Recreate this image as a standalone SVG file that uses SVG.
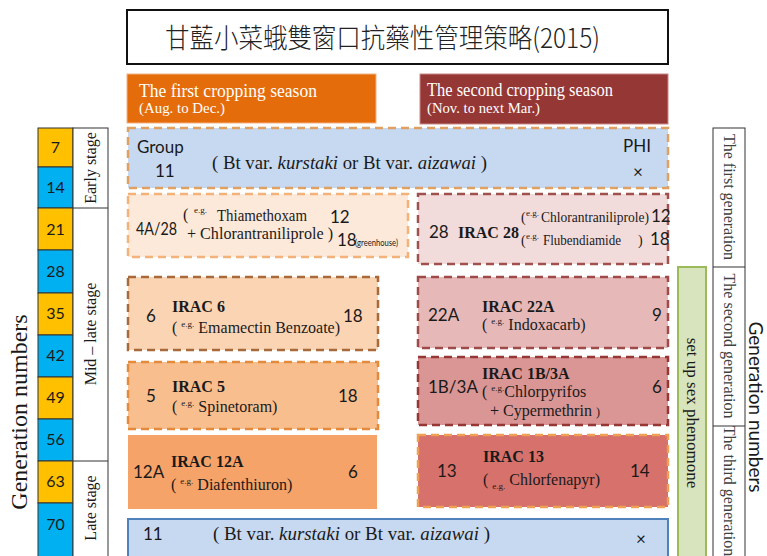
<svg xmlns="http://www.w3.org/2000/svg" width="767" height="556" viewBox="0 0 767 556">
<style>
.sans{font-family:Lato,"Open Sans","Liberation Sans",sans-serif;fill:#1a1a1a}
.ser{font-family:"Liberation Serif","DejaVu Serif",serif;fill:#1a1a1a}
.b{font-weight:bold}
.wh{fill:#ffffff}
.cell{stroke:#333;stroke-width:1}
.y{fill:#FFC000}
.bl{fill:#00B0F0}
.n{font-size:16px;text-anchor:middle}
.num{font-size:17px}
.dash{stroke-width:2.5;stroke-dasharray:8 5}
.gen{font-family:"Liberation Serif",serif;font-size:16px;fill:#404040;text-anchor:middle}
</style>
<rect width="767" height="556" fill="#ffffff"/>

<g id="title">
<rect x="127" y="10" width="541" height="54" fill="#fff" stroke="#111" stroke-width="2"/>
<text x="165" y="48" font-family="'Noto Sans CJK TC','Noto Sans CJK SC',sans-serif" font-size="27" font-weight="300" fill="#222" textLength="435" lengthAdjust="spacingAndGlyphs">甘藍小菜蛾雙窗口抗藥性管理策略(2015)</text>
</g>

<g id="header-first">
<rect x="127" y="74" width="249" height="49" fill="#E46C0A" stroke="#F4B183" stroke-width="1"/>
<text class="ser wh" x="139" y="97" font-size="18" textLength="178" lengthAdjust="spacingAndGlyphs">The first cropping season</text>
<text class="ser wh" x="139" y="113" font-size="15" textLength="86" lengthAdjust="spacingAndGlyphs">(Aug. to Dec.)</text>
</g>
<g id="header-second">
<rect x="420" y="74" width="248" height="50" fill="#953735" stroke="#C98A88" stroke-width="1"/>
<text class="ser wh" x="427" y="96" font-size="18" textLength="186" lengthAdjust="spacingAndGlyphs">The second cropping season</text>
<text class="ser wh" x="427" y="113" font-size="15" textLength="113" lengthAdjust="spacingAndGlyphs">(Nov. to next Mar.)</text>
</g>

<g id="gen-numbers-left">
<rect class="cell y" x="38" y="128" width="35" height="39"/>
<rect class="cell bl" x="38" y="167" width="35" height="41"/>
<rect class="cell y" x="38" y="208" width="35" height="42"/>
<rect class="cell bl" x="38" y="250" width="35" height="43"/>
<rect class="cell y" x="38" y="293" width="35" height="42"/>
<rect class="cell bl" x="38" y="335" width="35" height="42"/>
<rect class="cell y" x="38" y="377" width="35" height="42"/>
<rect class="cell bl" x="38" y="419" width="35" height="42"/>
<rect class="cell y" x="38" y="461" width="35" height="42"/>
<rect class="cell bl" x="38" y="503" width="35" height="60"/>
<text class="sans n" x="55.5" y="153">7</text>
<text class="sans n" x="55.5" y="193">14</text>
<text class="sans n" x="55.5" y="235">21</text>
<text class="sans n" x="55.5" y="277">28</text>
<text class="sans n" x="55.5" y="319">35</text>
<text class="sans n" x="55.5" y="361">42</text>
<text class="sans n" x="55.5" y="403">49</text>
<text class="sans n" x="55.5" y="445">56</text>
<text class="sans n" x="55.5" y="487">63</text>
<text class="sans n" x="55.5" y="530">70</text>
</g>

<g id="stages">
<rect x="73" y="128" width="35" height="440" fill="#fff" stroke="#333" stroke-width="1"/>
<line x1="73" y1="208" x2="108" y2="208" stroke="#333"/>
<line x1="73" y1="461" x2="108" y2="461" stroke="#333"/>
<text class="ser" font-size="16" text-anchor="middle" transform="translate(96,168) rotate(-90)" fill="#333">Early stage</text>
<text class="ser" font-size="16" text-anchor="middle" transform="translate(96,334) rotate(-90)" fill="#333">Mid – late stage</text>
<text class="ser" font-size="16" text-anchor="middle" transform="translate(96,508) rotate(-90)" fill="#333">Late stage</text>
</g>

<g id="label-left">
<text class="ser" font-size="24" text-anchor="middle" transform="translate(27,412) rotate(-90)" fill="#333">Generation numbers</text>
</g>

<g id="group11-top">
<rect class="dash" x="128" y="128" width="540" height="60" fill="#C6D9F1" stroke="#DFA062"/>
<text class="sans num" x="137" y="153">Group</text>
<text class="sans num" x="155" y="177">11</text>
<text class="ser" x="212" y="169" font-size="19" textLength="275" lengthAdjust="spacingAndGlyphs">( Bt var. <tspan font-style="italic">kurstaki</tspan> or Bt var. <tspan font-style="italic">aizawai</tspan> )</text>
<text class="sans num" x="623" y="152">PHI</text>
<text class="sans num" x="633" y="178">×</text>
</g>

<g id="irac-4a28">
<rect class="dash" x="128" y="194" width="280" height="63" fill="#FDE9D9" stroke="#F2B27A"/>
<text class="sans num" x="136" y="235" textLength="41" lengthAdjust="spacingAndGlyphs">4A/28</text>
<text class="ser" x="183" y="220" font-size="16">(</text>
<text class="ser" x="194" y="213" font-size="9">e.g.</text>
<text class="ser" x="217" y="221" font-size="16" textLength="90" lengthAdjust="spacingAndGlyphs">Thiamethoxam</text>
<text class="ser" x="187" y="239" font-size="16" textLength="146" lengthAdjust="spacingAndGlyphs">+ Chlorantraniliprole )</text>
<text class="sans num" x="330" y="223">12</text>
<text class="sans num" x="337" y="246">18</text>
<text class="sans" x="355" y="246" font-size="10" textLength="43" lengthAdjust="spacingAndGlyphs">(greenhouse)</text>
</g>

<g id="irac-28">
<rect class="dash" x="418" y="194" width="250" height="70" fill="#F2DCDB" stroke="#A0504D"/>
<text class="sans num" x="429" y="238">28</text>
<text class="ser b" x="458" y="238" font-size="16">IRAC 28</text>
<text class="ser" x="521" y="222" font-size="14">(</text>
<text class="ser" x="526" y="216" font-size="9">e.g.</text>
<text class="ser" x="541" y="222" font-size="14" textLength="108" lengthAdjust="spacingAndGlyphs">Chlorantraniliprole)</text>
<text class="sans num" x="651" y="222">12</text>
<text class="ser" x="521" y="245" font-size="14">(</text>
<text class="ser" x="526" y="239" font-size="9">e.g.</text>
<text class="ser" x="543" y="245" font-size="14" textLength="78" lengthAdjust="spacingAndGlyphs">Flubendiamide</text>
<text class="ser" x="638" y="245" font-size="14">)</text>
<text class="sans num" x="650" y="245">18</text>
</g>

<g id="irac-6">
<rect class="dash" x="128" y="277" width="250" height="73" fill="#FBD4B4" stroke="#A8693B"/>
<text class="sans num" x="146" y="322">6</text>
<text class="ser b" x="172" y="312" font-size="16">IRAC 6</text>
<text class="ser" x="172" y="333" font-size="16">( <tspan font-size="9" dy="-6">e.g.</tspan><tspan dy="6"> Emamectin Benzoate)</tspan></text>
<text class="sans num" x="343" y="322">18</text>
</g>

<g id="irac-5">
<rect class="dash" x="128" y="362" width="250" height="67" fill="#F9BE8E" stroke="#E38A3C"/>
<text class="sans num" x="146" y="402">5</text>
<text class="ser b" x="172" y="392" font-size="16">IRAC 5</text>
<text class="ser" x="172" y="412" font-size="16">( <tspan font-size="9" dy="-6">e.g.</tspan><tspan dy="6"> Spinetoram)</tspan></text>
<text class="sans num" x="338" y="402">18</text>
</g>

<g id="irac-12a">
<rect x="128" y="435" width="249" height="74" fill="#F5A368"/>
<text class="sans num" x="133" y="478">12A</text>
<text class="ser b" x="171" y="467" font-size="16">IRAC 12A</text>
<text class="ser" x="171" y="490" font-size="16">( <tspan font-size="9" dy="-6">e.g.</tspan><tspan dy="6"> Diafenthiuron)</tspan></text>
<text class="sans num" x="348" y="478">6</text>
</g>

<g id="irac-22a">
<rect class="dash" x="418" y="277" width="250" height="71" fill="#E6B9B8" stroke="#9E4A48"/>
<text class="sans num" x="428" y="321">22A</text>
<text class="ser b" x="482" y="312" font-size="16">IRAC 22A</text>
<text class="ser" x="482" y="330" font-size="16">( <tspan font-size="9" dy="-6">e.g.</tspan><tspan dy="6"> Indoxacarb)</tspan></text>
<text class="sans num" x="652" y="321">9</text>
</g>

<g id="irac-1b3a">
<rect class="dash" x="418" y="357" width="250" height="68" fill="#DA9694" stroke="#953735"/>
<text class="sans num" x="428" y="393">1B/3A</text>
<text class="ser b" x="482" y="379" font-size="16">IRAC 1B/3A</text>
<text class="ser" x="482" y="397" font-size="16">( <tspan font-size="9" dy="-6">e.g.</tspan><tspan dy="6">Chlorpyrifos</tspan></text>
<text class="ser" x="490" y="416" font-size="16">+  Cypermethrin <tspan font-size="12">)</tspan></text>
<text class="sans num" x="652" y="393">6</text>
</g>

<g id="irac-13">
<rect class="dash" x="418" y="435" width="250" height="72" fill="#D6716C" stroke="#F0A052"/>
<text class="sans num" x="437" y="477">13</text>
<text class="ser b" x="483" y="462" font-size="16">IRAC 13</text>
<text class="ser" x="483" y="485" font-size="16">( <tspan font-size="9" dy="4">e.g.</tspan><tspan dy="-4"> Chlorfenapyr)</tspan></text>
<text class="sans num" x="630" y="477">14</text>
</g>

<g id="group11-bottom">
<rect x="128" y="519" width="540" height="50" fill="#C6D9F1" stroke="#4F81BD" stroke-width="2"/>
<text class="sans num" x="143" y="540">11</text>
<text class="ser" x="213" y="540" font-size="19" textLength="277" lengthAdjust="spacingAndGlyphs">( Bt var. <tspan font-style="italic">kurstaki</tspan> or Bt var. <tspan font-style="italic">aizawai</tspan> )</text>
<text class="sans num" x="636" y="545">×</text>
</g>

<g id="pheromone">
<rect x="678" y="267" width="28" height="300" fill="#D7E4BD" stroke="#9BBB59" stroke-width="2"/>
<text class="ser" font-size="17" text-anchor="middle" fill="#404040" transform="translate(687,413) rotate(90)">set up sex phenomone</text>
</g>

<g id="generations">
<rect x="713" y="128" width="32" height="440" fill="#fff" stroke="#333" stroke-width="1"/>
<line x1="713" y1="267" x2="745" y2="267" stroke="#333"/>
<line x1="713" y1="426" x2="745" y2="426" stroke="#333"/>
<text class="gen" transform="translate(724,197) rotate(90)">The first generation</text>
<text class="gen" transform="translate(724,346) rotate(90)">The second generation</text>
<text class="gen" transform="translate(724,491) rotate(90)">The third generation</text>
</g>

<g id="label-right">
<text class="sans" font-size="19" text-anchor="middle" fill="#333" transform="translate(749,407) rotate(90)">Generation numbers</text>
</g>
</svg>
